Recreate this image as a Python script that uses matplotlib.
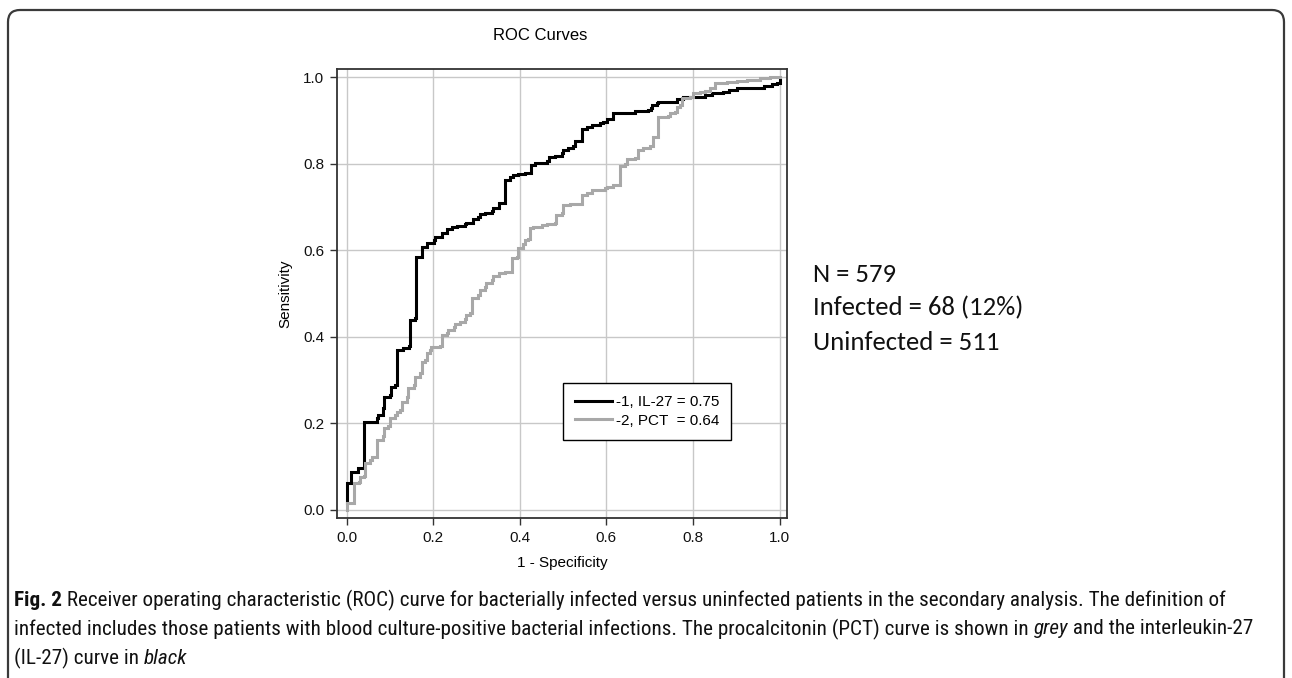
import matplotlib
matplotlib.use('Agg')
import matplotlib.pyplot as plt
from matplotlib import font_manager
from matplotlib.patches import FancyBboxPatch
from matplotlib.lines import Line2D

# ---------------- data ----------------
il27_fpr = [0.000, 0.000, 0.010, 0.010, 0.023, 0.027, 0.041, 0.041, 0.070, 0.073, 0.085, 0.087,
            0.100, 0.102, 0.113, 0.116, 0.131, 0.145, 0.147, 0.158, 0.160, 0.174, 0.174, 0.185,
            0.201, 0.204, 0.220, 0.231, 0.243, 0.254, 0.274, 0.277, 0.289, 0.293, 0.304, 0.308,
            0.320, 0.335, 0.338, 0.351, 0.352, 0.366, 0.366, 0.378, 0.385, 0.397, 0.412, 0.424,
            0.425, 0.435, 0.447, 0.462, 0.468, 0.482, 0.497, 0.499, 0.512, 0.524, 0.528, 0.543,
            0.543, 0.555, 0.566, 0.585, 0.593, 0.601, 0.615, 0.616, 0.666, 0.697, 0.702, 0.705,
            0.716, 0.720, 0.759, 0.762, 0.778, 0.816, 0.828, 0.843, 0.870, 0.882, 0.901, 0.940,
            0.963, 0.982, 0.995, 1.000]
il27_tpr = [0.015, 0.062, 0.062, 0.088, 0.088, 0.096, 0.096, 0.204, 0.212, 0.220, 0.235, 0.262,
            0.266, 0.285, 0.289, 0.370, 0.373, 0.379, 0.439, 0.443, 0.585, 0.589, 0.608, 0.617,
            0.623, 0.631, 0.640, 0.648, 0.654, 0.657, 0.660, 0.663, 0.663, 0.673, 0.677, 0.683,
            0.686, 0.691, 0.697, 0.701, 0.710, 0.712, 0.762, 0.770, 0.774, 0.775, 0.778, 0.779,
            0.797, 0.801, 0.802, 0.805, 0.815, 0.818, 0.824, 0.831, 0.835, 0.841, 0.853, 0.856,
            0.881, 0.885, 0.889, 0.893, 0.895, 0.902, 0.912, 0.918, 0.921, 0.924, 0.928, 0.935,
            0.939, 0.943, 0.943, 0.950, 0.953, 0.954, 0.958, 0.962, 0.966, 0.971, 0.974, 0.975,
            0.979, 0.984, 0.987, 0.993]

pct_fpr = [0.000, 0.000, 0.017, 0.017, 0.028, 0.032, 0.041, 0.043, 0.054, 0.058, 0.070, 0.071,
           0.085, 0.087, 0.096, 0.100, 0.112, 0.116, 0.124, 0.127, 0.139, 0.143, 0.155, 0.158,
           0.170, 0.174, 0.181, 0.185, 0.193, 0.194, 0.216, 0.220, 0.231, 0.235, 0.247, 0.251,
           0.262, 0.274, 0.277, 0.285, 0.289, 0.304, 0.308, 0.320, 0.322, 0.335, 0.339, 0.351,
           0.366, 0.381, 0.381, 0.393, 0.397, 0.408, 0.412, 0.420, 0.424, 0.431, 0.451, 0.462,
           0.482, 0.484, 0.497, 0.499, 0.516, 0.543, 0.543, 0.555, 0.566, 0.597, 0.601, 0.616,
           0.631, 0.631, 0.643, 0.647, 0.666, 0.674, 0.674, 0.685, 0.701, 0.708, 0.708, 0.720,
           0.720, 0.743, 0.747, 0.759, 0.762, 0.770, 0.774, 0.793, 0.801, 0.816, 0.828, 0.839,
           0.851, 0.851, 0.878, 0.901, 0.924, 0.955, 0.978, 1.000]
pct_tpr = [0.000, 0.015, 0.023, 0.062, 0.065, 0.077, 0.079, 0.108, 0.116, 0.123, 0.127, 0.162,
           0.170, 0.189, 0.193, 0.212, 0.219, 0.227, 0.231, 0.250, 0.262, 0.281, 0.289, 0.308,
           0.316, 0.342, 0.346, 0.362, 0.370, 0.377, 0.379, 0.404, 0.408, 0.416, 0.422, 0.430,
           0.435, 0.440, 0.450, 0.455, 0.489, 0.497, 0.508, 0.516, 0.525, 0.531, 0.540, 0.547,
           0.550, 0.554, 0.581, 0.585, 0.606, 0.614, 0.623, 0.627, 0.651, 0.654, 0.658, 0.660,
           0.662, 0.681, 0.685, 0.704, 0.707, 0.707, 0.727, 0.733, 0.740, 0.743, 0.745, 0.751,
           0.758, 0.794, 0.799, 0.810, 0.812, 0.820, 0.831, 0.837, 0.840, 0.845, 0.861, 0.866,
           0.908, 0.910, 0.917, 0.920, 0.931, 0.935, 0.951, 0.954, 0.962, 0.965, 0.968, 0.974,
           0.976, 0.987, 0.988, 0.991, 0.993, 0.997, 0.999, 1.000]

tick_values = [0.0, 0.2, 0.4, 0.6, 0.8, 1.0]
tick_labels = ['0.0', '0.2', '0.4', '0.6', '0.8', '1.0']
legend_labels = ['-1, IL-27 = 0.75', '-2, PCT  = 0.64']
title_text = 'ROC Curves'
x_label = '1 - Specificity'
y_label = 'Sensitivity'
info_lines = ['N = 579', 'Infected = 68 (12%)', 'Uninfected = 511']
caption_runs = [
    [('Fig. 2', 'bold', 'normal'),
     (' Receiver operating characteristic (ROC) curve for bacterially infected versus uninfected '
      'patients in the secondary analysis. The definition of', 'normal', 'normal')],
    [('infected includes those patients with blood culture-positive bacterial infections. The '
      'procalcitonin (PCT) curve is shown in ', 'normal', 'normal'),
     ('grey', 'normal', 'italic'),
     (' and the interleukin-27', 'normal', 'normal')],
    [('(IL-27) curve in ', 'normal', 'normal'), ('black', 'normal', 'italic')],
]

# ---------------- fonts ----------------
available = {f.name for f in font_manager.fontManager.ttflist}
def pick(cands):
    for c in cands:
        if c in available:
            return c
    return 'DejaVu Sans'

arial = pick(['Liberation Sans', 'Arial', 'DejaVu Sans'])
calibri = pick(['Carlito', 'Lato', 'Open Sans', 'Noto Sans'])
condensed = pick(['Liberation Sans Narrow', 'Roboto Condensed', 'Open Sans Condensed',
                  'DejaVu Sans Condensed', 'Roboto', 'Liberation Sans'])

plt.rcParams['font.family'] = [arial, 'DejaVu Sans']

W, H = 1292, 678
fig = plt.figure(figsize=(W / 100, H / 100), dpi=100)
fig.patch.set_facecolor('white')

def fx(px):
    return px / W

def fy(py):
    return 1 - py / H

# outer rounded frame
frame = FancyBboxPatch((8, -40), 1276, 40 + H - 10,
                       boxstyle='round,pad=0,rounding_size=12',
                       transform=None, facecolor='none', edgecolor='#3a3a3a', lw=1.6)
fig.add_artist(frame)

ax = fig.add_axes([fx(337), fy(518), 450 / W, 449 / H])
ax.set_xlim(-0.022, 1.017)
ax.set_ylim(-0.0185, 1.0185)

ax.grid(True, color='#c8c8c8', lw=1.0)
ax.set_axisbelow(True)

ax.plot(il27_fpr, il27_tpr, drawstyle='steps-post', color='black', lw=2.2,
        solid_joinstyle='miter')
ax.plot(pct_fpr, pct_tpr, drawstyle='steps-post', color='#a8a8a8', lw=2.2,
        solid_joinstyle='miter')

ax.set_xticks(tick_values)
ax.set_xticklabels(tick_labels)
ax.set_yticks(tick_values)
ax.set_yticklabels(tick_labels)
ax.tick_params(axis='both', labelsize=11, length=5, width=1.0, color='#333333',
               pad=4, labelcolor='#111111')
for s in ax.spines.values():
    s.set_color('#333333')
    s.set_linewidth(1.3)

ax.set_xlabel(x_label, fontsize=11, labelpad=8)
ax.set_ylabel(y_label, fontsize=11, labelpad=8)

fig.text(fx(540), fy(35), title_text, fontsize=12, ha='center', va='center')

handles = [Line2D([], [], color='black', lw=2.2),
           Line2D([], [], color='#a8a8a8', lw=2.2)]
leg = ax.legend(handles, legend_labels, loc='upper left',
                bbox_to_anchor=((563 - 337) / 450, (518 - 383) / 449),
                fontsize=11, frameon=True, fancybox=False, edgecolor='black',
                framealpha=1, borderaxespad=0, borderpad=0.8, labelspacing=0.3,
                handlelength=2.4, handletextpad=0.25)
leg.get_frame().set_linewidth(1.0)

# right-hand annotation
renderer = fig.canvas.get_renderer()
t = fig.text(fx(813), fy(308), info_lines[1], fontsize=16, family=calibri, va='center')
w = t.get_window_extent(renderer).width
info_fs = 16 * 210 / w
t.remove()
for i, line in enumerate(info_lines):
    fig.text(fx(813), fy(274 + 34 * i), line, fontsize=info_fs, family=calibri,
             va='center', color='#111111')

# caption
def line_width(runs, fs):
    total = 0
    for txt, wt, st in runs:
        tt = fig.text(0, 0, txt.replace(' ', '\u00a0'), fontsize=fs, family=condensed,
                      weight=wt, style=st)
        total += tt.get_window_extent(renderer).width
        tt.remove()
    return total

w1 = line_width(caption_runs[0], 10)
cap_fs = 10 * 1201 / w1

cap_y = [600, 629, 658]
for runs, yy in zip(caption_runs, cap_y):
    x = 14
    for txt, wt, st in runs:
        tt = fig.text(fx(x), fy(yy), txt.replace(' ', '\u00a0'), fontsize=cap_fs,
                      family=condensed, weight=wt, style=st, va='center', color='#111111')
        x += tt.get_window_extent(renderer).width

fig.savefig('out.png', dpi=100)
